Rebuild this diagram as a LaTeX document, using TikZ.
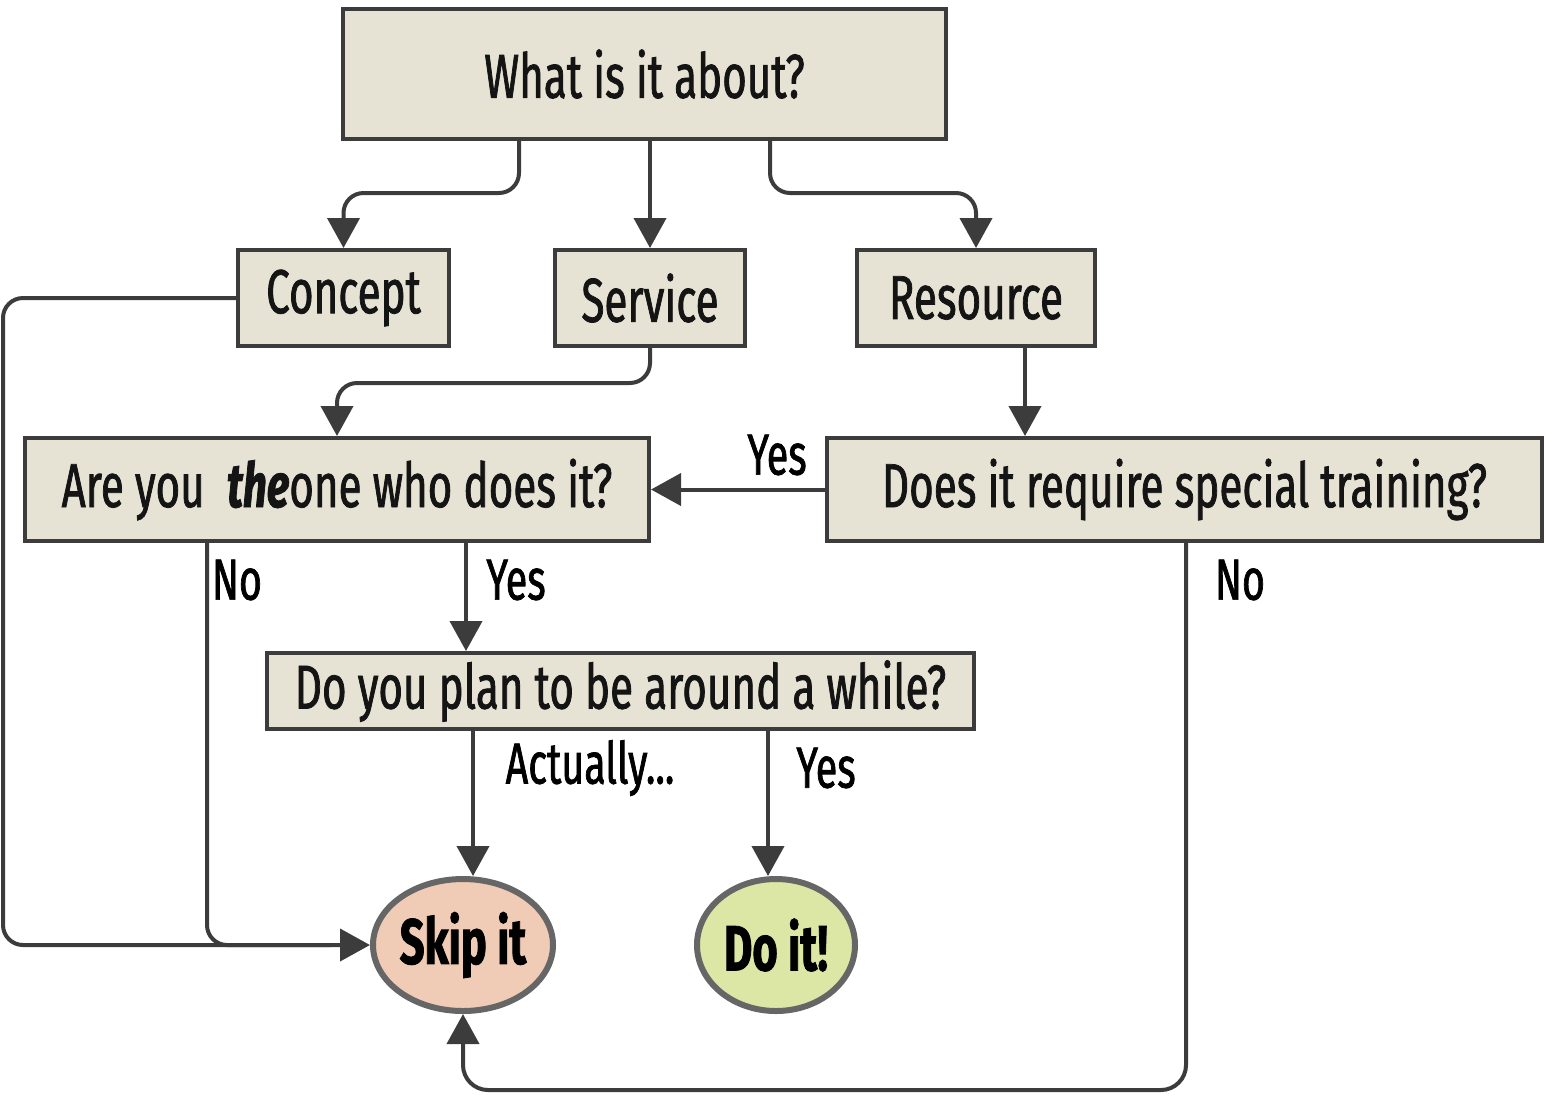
\documentclass[tikz,border=0pt]{standalone}
\usepackage{fontspec}
\setmainfont{Fira Sans}[FakeStretch=0.68,FakeBold=1.2]
\usetikzlibrary{arrows.meta,shapes.geometric,calc}
\definecolor{boxfill}{HTML}{E7E3D4}
\definecolor{linec}{HTML}{3C3C3C}
\definecolor{skipfill}{HTML}{F0CBB5}
\definecolor{dofill}{HTML}{DCE6A5}
\definecolor{ellc}{HTML}{666666}
\tikzset{
  qbox/.style={draw=linec, line width=4pt, fill=boxfill, inner sep=0pt, font=\fontsize{62}{70}\selectfont, text=black!92},
  endell/.style={ellipse, draw=ellc, line width=6pt, inner sep=0pt, font=\bfseries\fontsize{64}{70}\selectfont, text=black},
  conn/.style={draw=linec, line width=4pt, rounded corners=20pt},
  arr/.style={conn, -{Triangle[width=32pt,length=30pt]}},
  lbl/.style={font=\fontsize{58}{60}\selectfont, text=black, inner sep=0pt}
}
\begin{document}
\begin{tikzpicture}[x=1pt,y=-1pt]
\useasboundingbox (0,0) rectangle (1546,1096);
\node[qbox, minimum width=603pt, minimum height=130pt] (what) at (644.5,74) {What is it about?};
\node[qbox, minimum width=211pt, minimum height=96pt] (concept) at (343.5,298) {Concept};
\node[qbox, minimum width=190pt, minimum height=96pt] (service) at (650,298) {Service};
\node[qbox, minimum width=238pt, minimum height=96pt] (resource) at (976,298) {Resource};
\node[qbox, minimum width=624pt, minimum height=103pt] (are) at (337,489.5) {Are you \ \textbf{\textit{the}}one who does it?};
\node[qbox, minimum width=715pt, minimum height=103pt] (does) at (1184.5,489.5) {Does it require special training?};
\node[qbox, minimum width=707pt, minimum height=76pt] (plan) at (620.5,691) {Do you plan to be around a while?};
\node[endell, fill=skipfill, minimum width=180pt, minimum height=132pt] (skip) at (463,945) {Skip it};
\node[endell, fill=dofill, minimum width=158pt, minimum height=132pt] (doit) at (776,945) {Do it!};
% connectors
\draw[arr] ([xshift=-125.5pt]what.south) -- ++(0,52) -| (concept.north);
\draw[arr] (what.south -| service.north) -- (service.north);
\draw[arr] ([xshift=125.5pt]what.south) -- ++(0,52) -| (resource.north);
\draw[arr] (service.south) -- ++(0,35) -| (are.north);
\draw[arr] ([xshift=49pt]resource.south) coordinate (r1) -- (r1 |- does.north);
\draw[arr] (does.west) -- (are.east);
\coordinate (lc) at (3,945);
\draw[arr] (concept.west) -| (lc) -- (skip.west);
\draw[conn] ([xshift=-130pt]are.south) |- ([xshift=-40pt]skip.west);
\draw[arr] ([xshift=129pt]are.south) coordinate (a1) -- (a1 |- plan.north);
\draw[arr] ([xshift=-147.5pt]plan.south) coordinate (p1) -- (p1 |- skip.north);
\draw[arr] ([xshift=147.5pt]plan.south) coordinate (p2) -- (p2 |- doit.north);
\draw[arr, rounded corners=25pt] ([xshift=1.5pt]does.south) -- ++(0,547) -| (skip.south);
% labels
\node[lbl] (l1) at (777,455) {Yes};
\node[lbl] (l2) at (237,580) {No};
\node[lbl] (l3) at (516,580) {Yes};
\node[lbl] (l4) at (590,768) {Actually...};
\node[lbl] (l5) at (826,768) {Yes};
\node[lbl] (l6) at (1240,580) {No};
\end{tikzpicture}
\end{document}
